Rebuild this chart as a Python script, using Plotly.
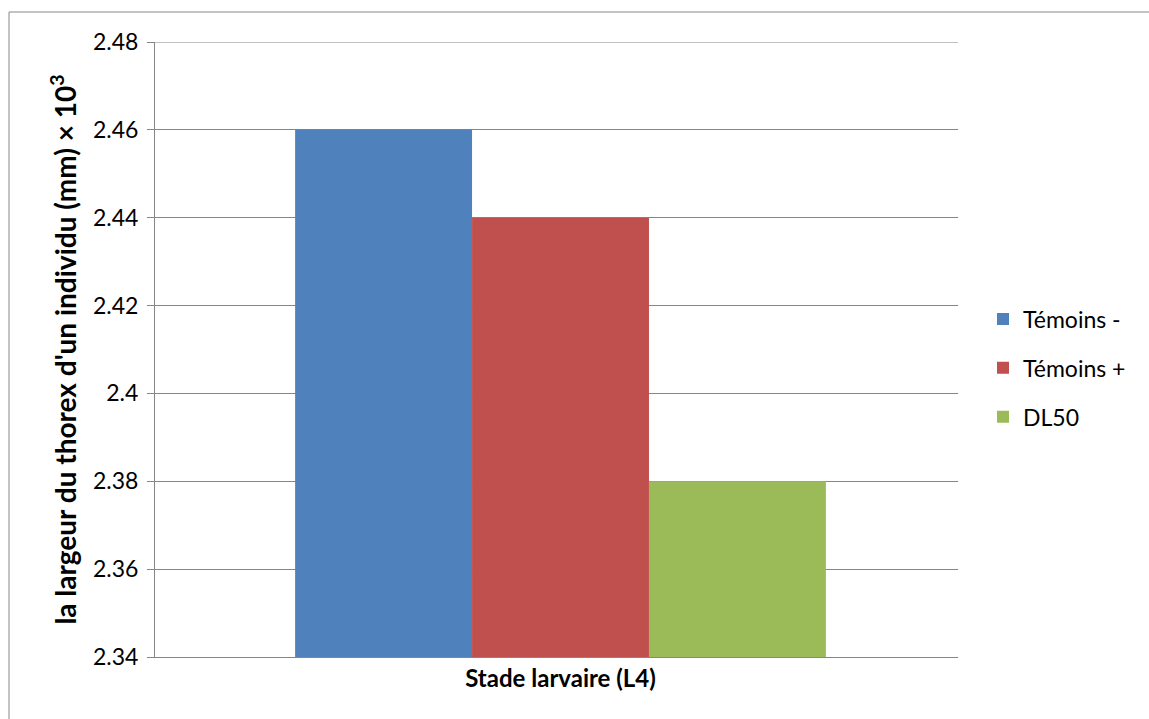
import plotly.graph_objects as go

categories = ["Stade larvaire (L4)"]
series_names = ["Témoins -", "Témoins +", "DL50"]
series_values = [[2.46], [2.44], [2.38]]
series_colors = ["#4F81BD", "#C0504D", "#9BBB59"]
y_ticks = [2.34, 2.36, 2.38, 2.40, 2.42, 2.44, 2.46, 2.48]
y_title = "la largeur du thorex d'un individu (mm) × 10<sup>3</sup>"

W, H = 1149, 719
L, R, T, B = 155, 958, 42, 657

fig = go.Figure()
for name, vals, col in zip(series_names, series_values, series_colors):
    fig.add_trace(go.Bar(x=categories, y=vals, name=name, marker_color=col,
                         marker_line_width=0, legendgroup=name))

font = "Lato, Carlito, Calibri, sans-serif"
fig.update_layout(
    width=W, height=H,
    margin=dict(l=L, r=W - R, t=T, b=H - B, pad=0),
    paper_bgcolor="white", plot_bgcolor="white",
    barmode="group", bargap=0.339, bargroupgap=0,
    font=dict(family=font, size=23, color="black"),
    showlegend=True,
    legend=dict(x=(983 - L) / (R - L), y=0.47, xanchor="left", yanchor="middle",
                font=dict(size=23), tracegroupgap=16, itemwidth=30,
                bgcolor="rgba(0,0,0,0)"),
    xaxis=dict(showgrid=False, showline=True, linecolor="#868686", linewidth=1,
               range=[-0.505, 0.495],
               ticks="", tickfont=dict(size=24, weight="bold"),
               zeroline=False),
    yaxis=dict(range=[2.34, 2.48], tickvals=y_ticks,
               ticktext=[f"{v:g}" for v in y_ticks],
               showgrid=True, gridcolor="#868686", gridwidth=1,
               showline=True, linecolor="#868686", linewidth=1,
               ticks="outside", ticklen=7, tickcolor="#868686",
               ticklabelstandoff=4,
               tickfont=dict(size=23), zeroline=False,
               title=dict(text=y_title, font=dict(size=28, weight="bold"), standoff=8)),
)

# top gridline (at the upper range edge)
fig.add_shape(type="line", xref="paper", yref="y", x0=0, x1=1, y0=y_ticks[-1], y1=y_ticks[-1],
              line=dict(color="#868686", width=1), layer="below")

# outer chart border (only top and left visible in the reference)
fig.add_shape(type="rect", xref="paper", yref="paper",
              x0=(9 - L) / (R - L), x1=2, y0=-1, y1=(B - 12) / (B - T),
              line=dict(color="#888888", width=1), fillcolor="rgba(0,0,0,0)", layer="below")

fig.write_html("out.html")
